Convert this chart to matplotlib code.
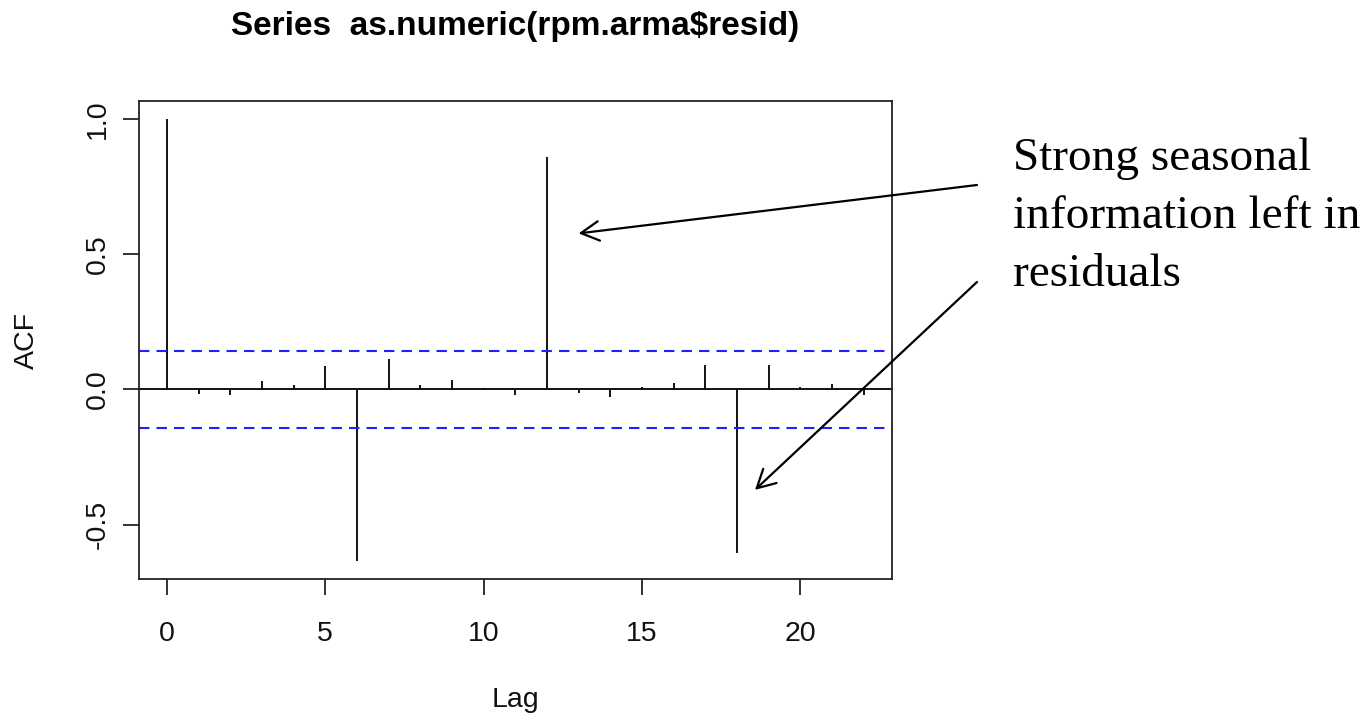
import matplotlib
matplotlib.use("Agg")
import matplotlib.pyplot as plt
import numpy as np

# Sample autocorrelation of the ARMA residuals, lags 0..22
lags = list(range(23))
acf_values = [1.000, -0.016, -0.022, 0.030, 0.016, 0.087, -0.636, 0.113,
              0.016, 0.035, 0.004, -0.021, 0.857, -0.015, -0.027, 0.010,
              0.022, 0.088, -0.607, 0.088, 0.010, 0.019, -0.022]
conf_bound = 0.143          # approx. 1.96 / sqrt(n)

x_ticks = [0, 5, 10, 15, 20]
y_ticks = [-0.5, 0.0, 0.5, 1.0]
y_tick_labels = ["-0.5", "0.0", "0.5", "1.0"]

title_text = "Series  as.numeric(rpm.arma$resid)"
note_text = "Strong seasonal\ninformation left in\nresiduals"

W, H = 1370, 716
fig = plt.figure(figsize=(W / 100, H / 100), dpi=100)
fig.patch.set_facecolor("white")

ax = fig.add_axes([139 / W, (H - 579) / H, 752.5 / W, 478 / H])

sans = ["Liberation Sans", "DejaVu Sans"]
axis_color = "#222222"

acf = np.array(acf_values)
ax.vlines(lags, 0, acf, color="black", lw=1.3)
ax.axhline(0, color="black", lw=1.3)
for b in (conf_bound, -conf_bound):
    ax.axhline(b, color="#1f1fff", lw=1.5, ls=(0, (5, 3.4)))

# R-style 4% range padding
xlo, xhi = min(lags), max(lags)
xpad = 0.04 * (xhi - xlo)
ax.set_xlim(xlo - xpad, xhi + xpad)
ylo = min(acf.min(), -conf_bound)
yhi = max(acf.max(), conf_bound)
ypad = 0.04 * (yhi - ylo)
ax.set_ylim(ylo - ypad, yhi + ypad)

ax.set_xticks(x_ticks)
ax.set_xticklabels([str(t) for t in x_ticks])
ax.set_yticks(y_ticks)
ax.set_yticklabels(y_tick_labels)

for s in ax.spines.values():
    s.set_color(axis_color)
    s.set_linewidth(1.3)

ax.tick_params(axis="both", direction="out", length=11.5, width=1.3,
               color=axis_color, labelsize=20.5, labelcolor="#111111")
ax.tick_params(axis="x", pad=19)
ax.tick_params(axis="y", pad=9, labelrotation=90)
for lbl in ax.get_xticklabels() + ax.get_yticklabels():
    lbl.set_fontfamily(sans)
for lbl in ax.get_yticklabels():
    lbl.set_va("center")

ax.set_xlabel("Lag", fontsize=20.5, family=sans, color="#111111")
ax.xaxis.label.set_va("center")
ax.xaxis.set_label_coords(0.5, -(700 - 579) / 478)
ax.set_ylabel("ACF", fontsize=20.5, family=sans, color="#111111")
ax.yaxis.label.set_va("center")
ax.yaxis.set_label_coords(-(139 - 27) / 752.5, 0.5)

ax.text(0.5, 1 + (101 - 35) / 478, title_text, transform=ax.transAxes,
        ha="center", va="baseline", fontsize=24, fontweight="bold",
        family=sans, color="black")

# Annotation pointing at the seasonal spikes
fig.text(1013 / W, (H - 138) / H, note_text, ha="left", va="top",
         fontsize=34, family=["Liberation Serif", "DejaVu Serif"],
         linespacing=1.47, color="black")

arrow_kw = dict(arrowstyle="->,head_length=1.3,head_width=0.7",
                color="black", lw=1.6, shrinkA=0, shrinkB=0,
                mutation_scale=10)
ax.annotate("", xy=(13.0, 0.576), xycoords="data",
            xytext=(977 / W, (H - 185) / H), textcoords="figure fraction",
            arrowprops=arrow_kw)
ax.annotate("", xy=(18.57, -0.372), xycoords="data",
            xytext=(977 / W, (H - 282) / H), textcoords="figure fraction",
            arrowprops=arrow_kw)

fig.savefig("out.png", dpi=100, facecolor="white")
